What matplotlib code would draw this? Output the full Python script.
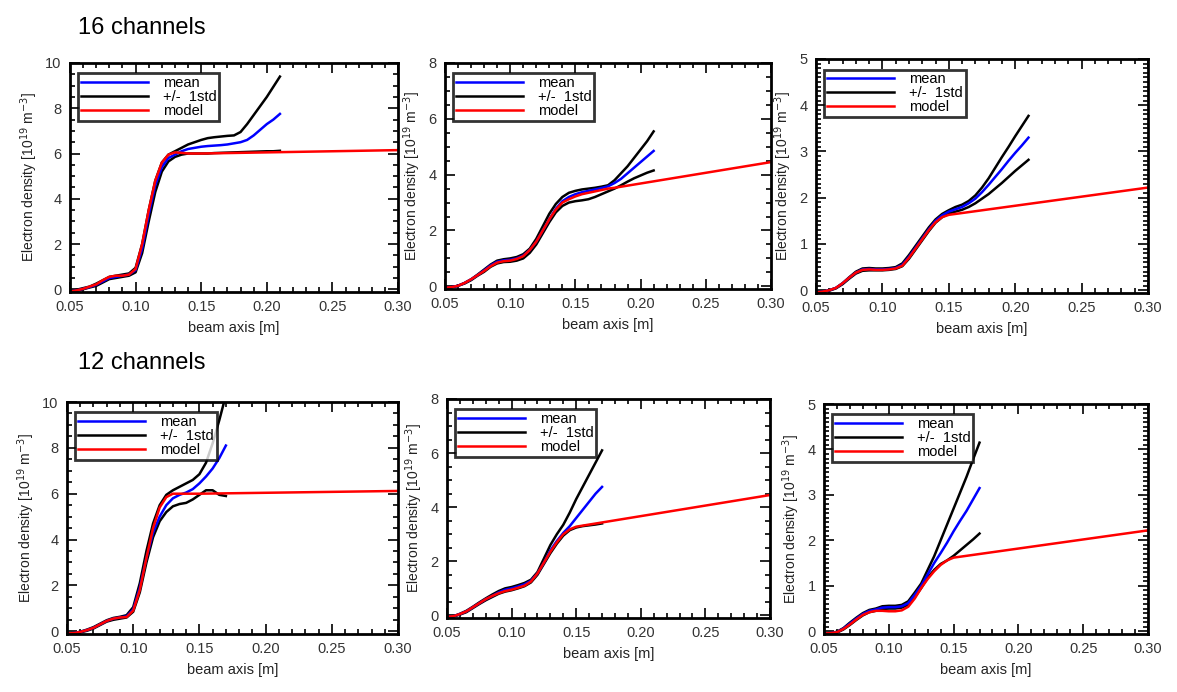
import numpy as np
import matplotlib
matplotlib.use("Agg")
import matplotlib.pyplot as plt
from matplotlib.lines import Line2D
from matplotlib.ticker import MultipleLocator, AutoMinorLocator

plt.rcParams['font.family'] = ['Liberation Sans', 'DejaVu Sans']

# ---- data (x in m, density in 1e19 m^-3) ----
x16 = np.round(np.arange(0.05, 0.2101, 0.005), 3)
x12 = np.round(np.arange(0.05, 0.1701, 0.005), 3)

# 16 channels, panel 1
a_model_x = [0.05, 0.055, 0.06, 0.065, 0.07, 0.075, 0.08, 0.085, 0.09, 0.095, 0.10, 0.105,
             0.11, 0.115, 0.12, 0.125, 0.13, 0.135, 0.14, 0.145, 0.15, 0.30]
a_model = [-0.1, -0.05, 0.02, 0.12, 0.22, 0.4, 0.55, 0.6, 0.6, 0.65, 0.9, 2.0,
           3.5, 4.8, 5.6, 5.95, 6.05, 6.03, 6.0, 6.0, 6.0, 6.15]
a_mean = [-0.1, -0.05, 0.02, 0.1, 0.2, 0.35, 0.5, 0.55, 0.6, 0.65, 0.85, 1.8, 3.3, 4.6, 5.4,
          5.8, 5.95, 6.1, 6.2, 6.25, 6.3, 6.33, 6.35, 6.37, 6.4, 6.45, 6.5, 6.6, 6.8, 7.05,
          7.3, 7.5, 7.75]
a_upper = [-0.1, -0.02, 0.05, 0.12, 0.25, 0.4, 0.55, 0.6, 0.65, 0.7, 0.95, 2.0, 3.5, 4.8, 5.6,
           5.95, 6.1, 6.25, 6.4, 6.5, 6.6, 6.68, 6.72, 6.75, 6.78, 6.8, 6.95, 7.3, 7.7, 8.1,
           8.5, 8.95, 9.4]
a_lower = [-0.1, -0.08, 0.0, 0.08, 0.15, 0.3, 0.45, 0.5, 0.55, 0.6, 0.75, 1.6, 3.0, 4.3, 5.2,
           5.65, 5.85, 5.95, 6.0, 6.0, 6.0, 6.0, 6.02, 6.03, 6.04, 6.05, 6.06, 6.07, 6.08,
           6.09, 6.1, 6.1, 6.12]

# 16 channels, panel 2
b_model_x = [0.05, 0.055, 0.06, 0.065, 0.07, 0.075, 0.08, 0.085, 0.09, 0.095, 0.10, 0.105,
             0.11, 0.115, 0.12, 0.125, 0.13, 0.135, 0.14, 0.145, 0.15, 0.155, 0.16, 0.165,
             0.17, 0.175, 0.18, 0.30]
b_model = [-0.05, -0.03, 0.02, 0.12, 0.25, 0.4, 0.55, 0.72, 0.85, 0.9, 0.92, 0.98,
           1.08, 1.3, 1.6, 2.0, 2.4, 2.75, 3.0, 3.12, 3.22, 3.3, 3.35, 3.4,
           3.45, 3.5, 3.53, 4.45]
b_mean = [-0.05, -0.03, 0.02, 0.12, 0.25, 0.4, 0.57, 0.75, 0.88, 0.93, 0.95, 1.0, 1.1, 1.3,
          1.6, 2.0, 2.4, 2.78, 3.05, 3.2, 3.3, 3.37, 3.42, 3.47, 3.52, 3.58, 3.7, 3.85, 4.05,
          4.25, 4.45, 4.65, 4.85]
b_upper = [-0.05, -0.03, 0.02, 0.12, 0.25, 0.42, 0.6, 0.78, 0.92, 0.97, 1.0, 1.05, 1.15,
           1.35, 1.7, 2.15, 2.6, 2.95, 3.2, 3.35, 3.42, 3.47, 3.5, 3.53, 3.57, 3.62, 3.8,
           4.05, 4.3, 4.6, 4.9, 5.2, 5.55]
b_lower = [-0.05, -0.03, 0.02, 0.1, 0.22, 0.38, 0.52, 0.7, 0.82, 0.87, 0.88, 0.92, 1.0, 1.2,
           1.5, 1.9, 2.3, 2.65, 2.88, 3.0, 3.05, 3.08, 3.12, 3.2, 3.3, 3.4, 3.5, 3.62, 3.75,
           3.87, 3.97, 4.07, 4.15]

# 16 channels, panel 3
c_model_x = [0.05, 0.055, 0.06, 0.065, 0.07, 0.075, 0.08, 0.085, 0.09, 0.095, 0.10, 0.105,
             0.11, 0.115, 0.12, 0.125, 0.13, 0.135, 0.14, 0.145, 0.15, 0.30]
c_model = [-0.05, -0.03, 0.0, 0.05, 0.15, 0.27, 0.38, 0.44, 0.45, 0.44, 0.44, 0.45,
           0.47, 0.53, 0.7, 0.9, 1.1, 1.3, 1.47, 1.58, 1.63, 2.22]
c_mean = [-0.05, -0.03, 0.0, 0.05, 0.15, 0.27, 0.38, 0.45, 0.46, 0.45, 0.45, 0.46, 0.48,
          0.55, 0.72, 0.92, 1.12, 1.32, 1.5, 1.62, 1.7, 1.75, 1.8, 1.88, 1.98, 2.12, 2.28,
          2.45, 2.62, 2.8, 2.97, 3.13, 3.3]
c_upper = [-0.05, -0.03, 0.0, 0.05, 0.15, 0.28, 0.4, 0.47, 0.48, 0.47, 0.47, 0.48, 0.5,
           0.58, 0.76, 0.96, 1.16, 1.36, 1.53, 1.65, 1.73, 1.8, 1.85, 1.93, 2.05, 2.22, 2.42,
           2.65, 2.88, 3.1, 3.33, 3.55, 3.77]
c_lower = [-0.05, -0.04, -0.01, 0.04, 0.13, 0.25, 0.36, 0.42, 0.43, 0.43, 0.43, 0.44, 0.46,
           0.52, 0.68, 0.88, 1.08, 1.28, 1.46, 1.58, 1.66, 1.7, 1.74, 1.8, 1.88, 1.98, 2.08,
           2.2, 2.32, 2.45, 2.58, 2.7, 2.82]

# 12 channels, panel 1
d_model_x = a_model_x
d_model = [-0.1, -0.08, -0.03, 0.05, 0.15, 0.3, 0.45, 0.55, 0.6, 0.62, 0.9, 1.8,
           3.2, 4.5, 5.4, 5.85, 6.0, 6.0, 6.0, 6.0, 6.0, 6.12]
d_mean = [-0.1, -0.08, -0.03, 0.05, 0.15, 0.3, 0.45, 0.55, 0.6, 0.65, 0.95, 1.9, 3.2, 4.3,
          5.0, 5.5, 5.8, 5.95, 6.05, 6.2, 6.45, 6.75, 7.1, 7.55, 8.1]
d_upper = [-0.1, -0.08, -0.02, 0.07, 0.18, 0.33, 0.48, 0.58, 0.63, 0.7, 1.05, 2.1, 3.5, 4.7,
           5.5, 5.95, 6.15, 6.3, 6.45, 6.6, 6.85, 7.35, 8.2, 9.2, 10.3]
d_lower = [-0.1, -0.09, -0.05, 0.02, 0.12, 0.27, 0.42, 0.5, 0.55, 0.6, 0.85, 1.7, 3.0, 4.1,
           4.8, 5.2, 5.45, 5.55, 5.6, 5.75, 5.95, 6.15, 6.15, 5.95, 5.9]

# 12 channels, panel 2
e_model_x = a_model_x
e_model = [-0.05, -0.03, 0.05, 0.15, 0.3, 0.45, 0.6, 0.72, 0.82, 0.9, 0.95, 1.02,
           1.1, 1.25, 1.55, 1.95, 2.35, 2.7, 3.0, 3.18, 3.28, 4.45]
e_mean = [-0.05, -0.03, 0.05, 0.15, 0.3, 0.45, 0.6, 0.72, 0.85, 0.95, 1.0, 1.07, 1.15, 1.28,
          1.55, 1.95, 2.4, 2.75, 3.05, 3.3, 3.6, 3.9, 4.2, 4.5, 4.75]
e_upper = [-0.05, -0.03, 0.06, 0.17, 0.32, 0.48, 0.63, 0.77, 0.9, 1.0, 1.05, 1.12, 1.2, 1.32,
           1.6, 2.1, 2.6, 3.0, 3.35, 3.8, 4.3, 4.75, 5.2, 5.65, 6.1]
e_lower = [-0.05, -0.04, 0.03, 0.12, 0.27, 0.42, 0.56, 0.68, 0.8, 0.88, 0.93, 1.0, 1.08, 1.22,
           1.5, 1.9, 2.3, 2.65, 2.95, 3.15, 3.25, 3.3, 3.33, 3.36, 3.4]

# 12 channels, panel 3
f_model_x = a_model_x
f_model = [-0.05, -0.04, -0.02, 0.05, 0.15, 0.26, 0.36, 0.42, 0.45, 0.45, 0.44, 0.44,
           0.46, 0.54, 0.72, 0.95, 1.15, 1.32, 1.46, 1.56, 1.62, 2.22]
f_mean = [-0.05, -0.04, -0.02, 0.06, 0.17, 0.28, 0.38, 0.45, 0.48, 0.52, 0.53, 0.53, 0.55,
          0.62, 0.8, 1.0, 1.25, 1.5, 1.72, 1.95, 2.2, 2.43, 2.65, 2.9, 3.15]
f_upper = [-0.05, -0.04, -0.01, 0.07, 0.19, 0.3, 0.4, 0.47, 0.5, 0.55, 0.56, 0.56, 0.58,
           0.66, 0.85, 1.05, 1.35, 1.65, 2.0, 2.35, 2.7, 3.05, 3.4, 3.78, 4.15]
f_lower = [-0.05, -0.05, -0.03, 0.04, 0.14, 0.25, 0.35, 0.42, 0.45, 0.49, 0.5, 0.5, 0.52,
           0.58, 0.75, 0.95, 1.18, 1.35, 1.48, 1.56, 1.66, 1.78, 1.9, 2.02, 2.15]

panels = [
    # axes rect in pixels (left, top, right, bottom), ymax, major, minor count
    ((70, 63, 398, 292), 10, 2, 4, x16, a_mean, a_upper, a_lower, a_model_x, a_model),
    ((445, 63, 771, 289), 8, 2, 4, x16, b_mean, b_upper, b_lower, b_model_x, b_model),
    ((816, 59, 1148, 293), 5, 1, 10, x16, c_mean, c_upper, c_lower, c_model_x, c_model),
    ((67, 402, 398, 634), 10, 2, 4, x12, d_mean, d_upper, d_lower, d_model_x, d_model),
    ((447, 399, 770, 618), 8, 2, 4, x12, e_mean, e_upper, e_lower, e_model_x, e_model),
    ((824, 404, 1148, 634), 5, 1, 10, x12, f_mean, f_upper, f_lower, f_model_x, f_model),
]

W, H = 1177, 692
fig = plt.figure(figsize=(W / 100, H / 100), dpi=100)

for rect, ymax, major, nminor, xm, mean, upper, lower, mx, model in panels:
    l, t, r, b = rect
    ax = fig.add_axes([l / W, 1 - b / H, (r - l) / W, (b - t) / H])
    ax.plot(xm, upper, color='black', lw=1.8)
    ax.plot(xm, lower, color='black', lw=1.8)
    ax.plot(xm, mean, color='#0000ff', lw=1.8)
    ax.plot(mx, model, color='#ff0000', lw=1.8)
    ax.set_xlim(0.05, 0.30)
    ax.set_ylim(-0.012 * ymax, ymax)
    ax.xaxis.set_major_locator(MultipleLocator(0.05))
    ax.xaxis.set_minor_locator(AutoMinorLocator(5))
    ax.yaxis.set_major_locator(MultipleLocator(major))
    ax.yaxis.set_minor_locator(AutoMinorLocator(nminor))
    ax.set_xticklabels(['%.2f' % v for v in ax.get_xticks()])
    ax.tick_params(which='both', direction='in', top=True, right=True, labelsize=10.5,
                   width=1.2, colors='black', labelcolor='#333333')
    ax.tick_params(which='major', length=7, pad=6)
    ax.tick_params(which='minor', length=3.5)
    for s in ax.spines.values():
        s.set_linewidth(2)
    ax.set_xlabel('beam axis [m]', fontsize=10.5, labelpad=5, color='#222222')
    ax.set_ylabel('Electron density [10$^{19}$ m$^{-3}$]', fontsize=10, labelpad=4,
                  color='#222222')
    handles = [Line2D([], [], color='#0000ff', lw=1.8),
               Line2D([], [], color='black', lw=1.8),
               Line2D([], [], color='#ff0000', lw=1.8)]
    leg = ax.legend(handles, ['mean', '+/-  1std', 'model'], loc='upper left',
                    bbox_to_anchor=(0.025, 0.955), fontsize=10.5, frameon=True,
                    fancybox=False, handlelength=4.6, handletextpad=1.0, labelspacing=0.0,
                    borderpad=0.2, borderaxespad=0)
    leg.get_frame().set_edgecolor('black')
    leg.get_frame().set_linewidth(2)

fig.text(78 / W, 1 - 28 / H, '16 channels', fontsize=17, va='center', ha='left')
fig.text(78 / W, 1 - 363 / H, '12 channels', fontsize=17, va='center', ha='left')

fig.savefig('out.png', dpi=100)
